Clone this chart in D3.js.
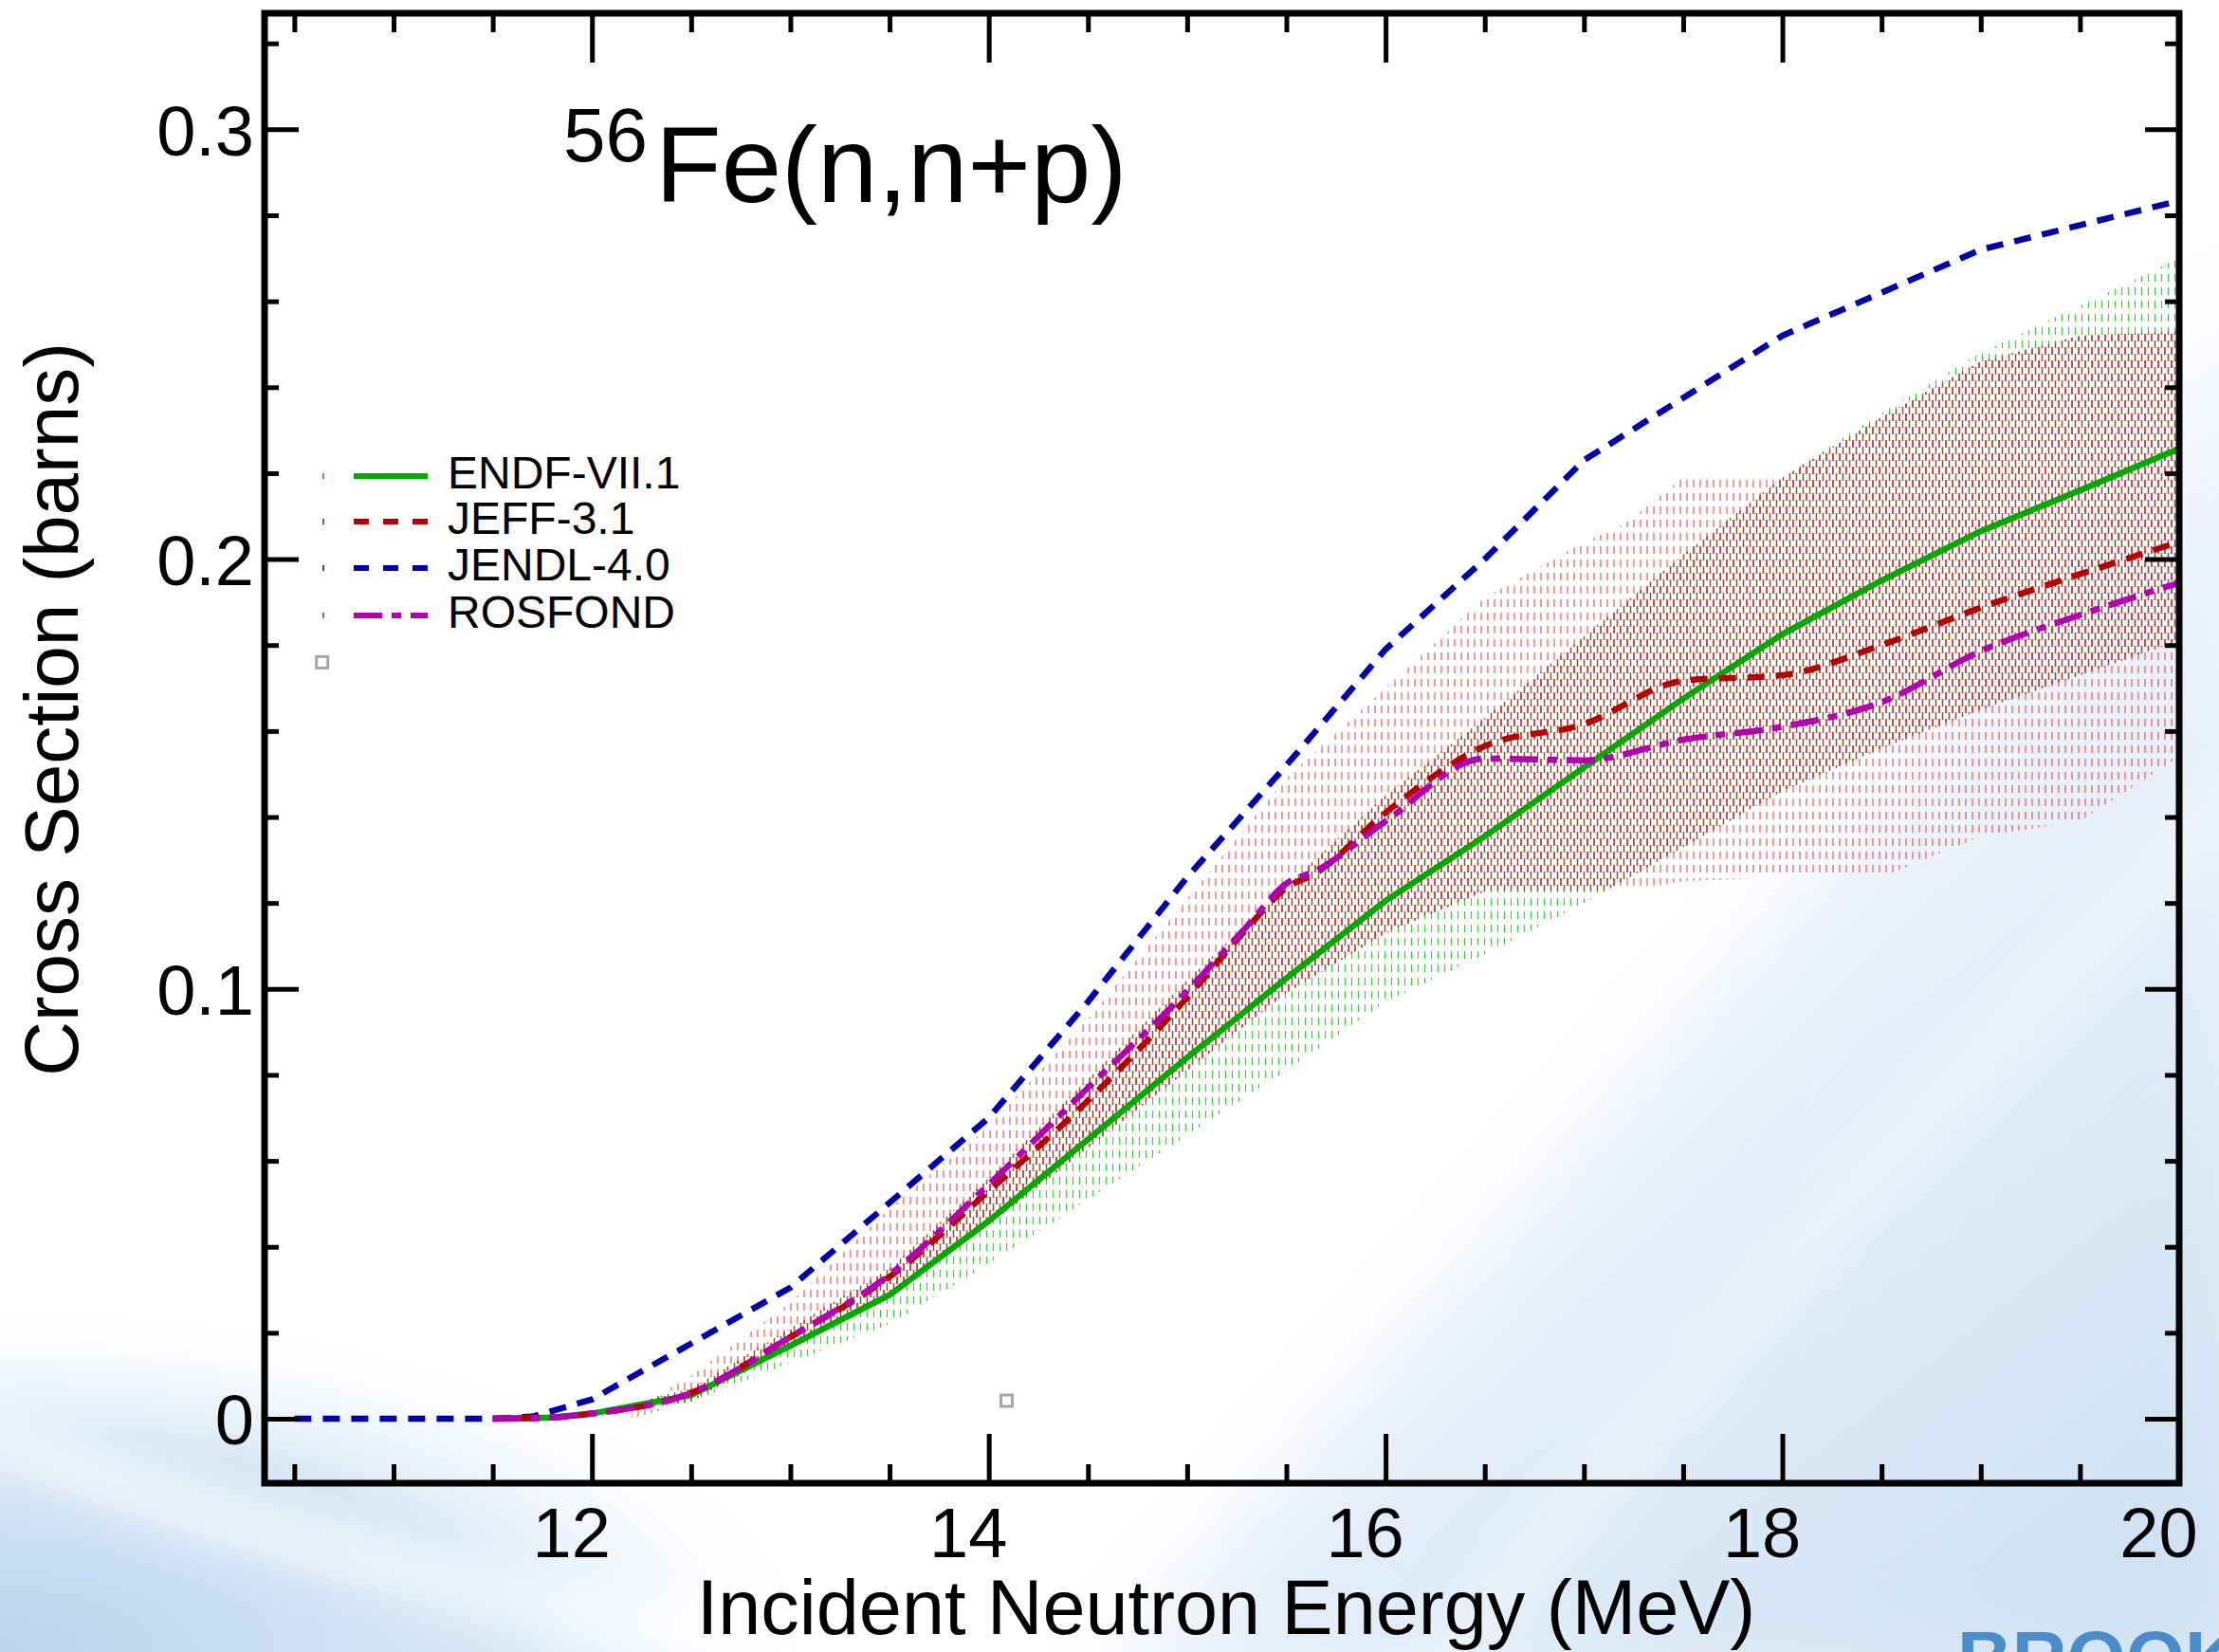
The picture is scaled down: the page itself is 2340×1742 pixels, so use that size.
<!DOCTYPE html>
<html>
<head>
<meta charset="utf-8">
<script src="https://cdnjs.cloudflare.com/ajax/libs/d3/7.8.5/d3.min.js"></script>
<style>
  html, body { margin: 0; padding: 0; background: #fff; }
  svg { display: block; font-family: "Liberation Sans", Arial, Helvetica, sans-serif; }
</style>
</head>
<body>
<svg id="chart" width="2340" height="1742"></svg>
<script>
// 56Fe(n,n+p) cross sections (barns) vs incident energy (MeV)
let jendlE  = [10.5, 11.5, 11.7, 12, 13, 14, 14.5, 15, 15.5, 16, 16.5, 17, 18, 19, 20]
let jendlXs = [0, 0, 0.0005, 0.0045, 0.0305, 0.070, 0.097, 0.126, 0.152, 0.179, 0.200, 0.223, 0.252, 0.272, 0.2834]

let endfE  = [11.5, 11.8, 12, 12.5, 13, 13.5, 14, 14.5, 15, 15.5, 16, 16.5, 17, 17.5, 18, 18.5, 19, 19.5, 20]
let endfXs = [0, 0.0003, 0.0012, 0.0055, 0.017, 0.0288, 0.046, 0.065, 0.084, 0.1025, 0.1205, 0.1355, 0.1515, 0.1675, 0.1825, 0.195, 0.2065, 0.216, 0.2257]
// ENDF uncertainty band
let endfLow  = [0, 0.0002, 0.0009, 0.004, 0.013, 0.022, 0.036, 0.051, 0.066, 0.081, 0.097, 0.108, 0.120, 0.133, 0.146, 0.156, 0.165, 0.173, 0.181]
let endfHigh = [0, 0.0004, 0.0015, 0.007, 0.021, 0.035, 0.056, 0.079, 0.102, 0.124, 0.145, 0.163, 0.182, 0.201, 0.219, 0.234, 0.248, 0.259, 0.270]

let jeffE  = [11.5, 11.8, 12, 12.5, 13, 13.5, 14, 14.5, 15, 15.3, 15.5, 15.65, 16, 16.5, 17, 17.5, 18, 18.5, 19, 19.5, 20]
let jeffXs = [0, 0.0003, 0.0012, 0.006, 0.019, 0.033, 0.053, 0.074, 0.098, 0.114, 0.1235, 0.127, 0.141, 0.1565, 0.1616, 0.1717, 0.173, 0.180, 0.1887, 0.1965, 0.204]
// JEFF uncertainty band
let jeffBandE = [12.2, 12.5, 13, 13.5, 14, 14.5, 15, 15.5, 16, 16.5, 17, 17.2, 17.5, 18, 18.5, 19, 19.5, 20]
let jeffLow   = [0, 0.004, 0.0165, 0.029, 0.045, 0.063, 0.081, 0.099, 0.113, 0.1227, 0.1227, 0.1227, 0.125, 0.126, 0.126, 0.1355, 0.139, 0.154]
let jeffHigh  = [0.002, 0.010, 0.027, 0.049, 0.068, 0.093, 0.121, 0.149, 0.170, 0.191, 0.204, 0.208, 0.219, 0.219, 0.233, 0.246, 0.252, 0.253]

let rosE  = [11.5, 11.8, 12, 12.5, 13, 13.5, 14, 14.5, 15, 15.3, 15.5, 15.65, 16, 16.5, 17, 17.5, 18, 18.5, 19, 19.5, 20]
let rosXs = [0, 0.0003, 0.0012, 0.006, 0.019, 0.0335, 0.0545, 0.077, 0.0995, 0.1145, 0.1245, 0.1275, 0.139, 0.1536, 0.1532, 0.158, 0.161, 0.1667, 0.1786, 0.187, 0.1945]

// stray open markers
let markE  = [10.64, 14.09]
let markXs = [0.176, 0.0042]

let xMajor = [12, 14, 16, 18, 20]
let yMajor = [0, 0.1, 0.2, 0.3]

const legendNames = ['ENDF-VII.1', 'JEFF-3.1', 'JENDL-4.0', 'ROSFOND']
const colors = { endf: '#00a800', jeff: '#b40000', jendl: '#0000aa', ros: '#b000b0' }
const dashes = { endf: null, jeff: '18,12', jendl: '18,12', ros: '30,10,10,10' }

const svg = d3.select('#chart')
const defs = svg.append('defs')

const x = d3.scaleLinear().domain([10.35, 20]).range([279, 2298])
const y = d3.scaleLinear().domain([-0.015, 0.327]).range([1564, 14])

// ---- slide background ----
function blurFilter(id, sd) {
  defs.append('filter').attr('id', id)
    .attr('x', '-50%').attr('y', '-50%').attr('width', '200%').attr('height', '200%')
    .append('feGaussianBlur').attr('stdDeviation', sd)
}
blurFilter('soft', 60)
blurFilter('softer', 25)

const rg = defs.append('linearGradient').attr('id', 'bgRight')
  .attr('gradientUnits', 'userSpaceOnUse')
  .attr('x1', 1550).attr('y1', 750).attr('x2', 2340).attr('y2', 1742)
rg.append('stop').attr('offset', 0).attr('stop-color', '#f7fafd')
rg.append('stop').attr('offset', 0.45).attr('stop-color', '#e4eef8')
rg.append('stop').attr('offset', 1).attr('stop-color', '#cadff1')

const lg = defs.append('radialGradient').attr('id', 'bgLeft')
  .attr('gradientUnits', 'userSpaceOnUse')
  .attr('cx', 0).attr('cy', 1742).attr('r', 700)
  .attr('gradientTransform', 'translate(0,1742) scale(1.3,0.55) translate(0,-1742)')
lg.append('stop').attr('offset', 0).attr('stop-color', '#bcd5ed')
lg.append('stop').attr('offset', 0.6).attr('stop-color', '#d9e8f5')
lg.append('stop').attr('offset', 1).attr('stop-color', '#ffffff').attr('stop-opacity', 0)

const bg = svg.append('g')
bg.append('rect').attr('width', 2340).attr('height', 1742).attr('fill', '#fff')
bg.append('rect').attr('x', 0).attr('y', 1300).attr('width', 1100).attr('height', 442)
  .attr('fill', 'url(#bgLeft)')
bg.append('path')
  .attr('d', 'M1150,1800 C1500,1380 1950,950 2400,250 L2400,1800 Z')
  .attr('fill', 'url(#bgRight)').attr('filter', 'url(#soft)')
// pale streaks across the blue
bg.append('path')
  .attr('d', 'M-40,1500 Q420,1700 1050,1760')
  .attr('fill', 'none').attr('stroke', '#ffffff').attr('stroke-width', 45)
  .attr('opacity', 0.75).attr('filter', 'url(#softer)')
bg.append('path')
  .attr('d', 'M1500,1780 Q1900,1300 2380,820')
  .attr('fill', 'none').attr('stroke', '#ffffff').attr('stroke-width', 40)
  .attr('opacity', 0.45).attr('filter', 'url(#softer)')

// logo fragment at the bottom edge, cut by the page
const logoClip = defs.append('clipPath').attr('id', 'pageEdge')
logoClip.append('rect').attr('width', 2340).attr('height', 1742)
const logo = svg.append('g').attr('clip-path', 'url(#pageEdge)')
logo.append('text').attr('x', 2064).attr('y', 1776)
  .attr('font-size', 80).attr('font-weight', 'bold').attr('fill', '#4a8cc8')
  .text('BROOKHAVEN')

// ---- hatch patterns ----
// each pattern: columns of short vertical dashes, 7px apart, rows 14px apart
function hatch(id, cols, w) {
  const p = defs.append('pattern').attr('id', id)
    .attr('patternUnits', 'userSpaceOnUse').attr('width', 7).attr('height', 14)
  cols.forEach(c => c.segs.forEach(s => p.append('line')
    .attr('x1', c.x).attr('x2', c.x).attr('y1', s[0]).attr('y2', s[1])
    .attr('stroke', c.color).attr('stroke-width', w)))
}
const upper = [[2, 10]]
const lower = [[9, 14], [0, 3]]
hatch('hatchRed', [{ x: 1, color: '#e05a5a', segs: upper }], 1.2)
hatch('hatchGreen', [{ x: 4.5, color: '#3ccc3c', segs: lower }], 1.2)
hatch('hatchBoth', [{ x: 1, color: '#c42a2a', segs: upper }, { x: 4.5, color: '#8e5030', segs: lower }], 1.4)

const plotClip = defs.append('clipPath').attr('id', 'plotArea')
plotClip.append('rect').attr('x', 279).attr('y', 14).attr('width', 2019).attr('height', 1550)

const bandArea = d3.area()
  .x(d => x(d.e)).y0(d => y(d.lo)).y1(d => y(d.hi))

const endfBand = endfE.map((e, i) => ({ e, lo: endfLow[i], hi: endfHigh[i] }))
const jeffBand = jeffBandE.map((e, i) => ({ e, lo: jeffLow[i], hi: jeffHigh[i] }))

defs.append('clipPath').attr('id', 'jeffClip')
  .append('path').attr('d', bandArea(jeffBand))

const plot = svg.append('g').attr('clip-path', 'url(#plotArea)')

plot.append('path').attr('d', bandArea(jeffBand)).attr('fill', 'url(#hatchRed)')
plot.append('path').attr('d', bandArea(endfBand)).attr('fill', 'url(#hatchGreen)')
plot.append('g').attr('clip-path', 'url(#jeffClip)')
  .append('path').attr('d', bandArea(endfBand)).attr('fill', 'url(#hatchBoth)')

// ---- evaluated curves ----
const series = [
  { key: 'jendl', e: jendlE, v: jendlXs, curve: d3.curveLinear },
  { key: 'endf', e: endfE, v: endfXs, curve: d3.curveLinear },
  { key: 'jeff', e: jeffE, v: jeffXs, curve: d3.curveMonotoneX },
  { key: 'ros', e: rosE, v: rosXs, curve: d3.curveMonotoneX }
]

series.forEach(s => {
  const line = d3.line().x(d => x(d[0])).y(d => y(d[1])).curve(s.curve)
  plot.append('path')
    .datum(s.e.map((e, i) => [e, s.v[i]]))
    .attr('d', line)
    .attr('fill', 'none')
    .attr('stroke', colors[s.key])
    .attr('stroke-width', 6.5)
    .attr('stroke-dasharray', dashes[s.key])
})

plot.selectAll('rect.mark')
  .data(markE.map((e, i) => [e, markXs[i]]))
  .enter()
  .append('rect')
  .attr('class', 'mark')
  .attr('x', d => x(d[0]) - 6).attr('y', d => y(d[1]) - 6)
  .attr('width', 12).attr('height', 12)
  .attr('fill', '#fff').attr('stroke', '#a6a6a6').attr('stroke-width', 3)

// ---- frame and ticks ----
const xMinor = d3.range(10.5, 20.01, 0.5).filter(v => !xMajor.includes(v))
const yMinor = d3.range(0, 0.3201, 0.02).map(v => +v.toFixed(2))
  .filter(v => !yMajor.some(m => Math.abs(m - v) < 1e-9))

function ticks(axis, vals, size, transform) {
  svg.append('g')
    .attr('transform', transform)
    .call(axis.tickValues(vals).tickSize(size).tickFormat(''))
    .call(g => g.select('.domain').remove())
    .call(g => g.selectAll('line').attr('stroke', '#000').attr('stroke-width', 5))
}
ticks(d3.axisBottom(x), xMajor, -52, 'translate(0,1564)')
ticks(d3.axisBottom(x), xMinor, -20, 'translate(0,1564)')
ticks(d3.axisTop(x), xMajor, -52, 'translate(0,14)')
ticks(d3.axisTop(x), xMinor, -20, 'translate(0,14)')
ticks(d3.axisLeft(y), yMajor, -36, 'translate(279,0)')
ticks(d3.axisLeft(y), yMinor, -15, 'translate(279,0)')
ticks(d3.axisRight(y), yMajor, -36, 'translate(2298,0)')
ticks(d3.axisRight(y), yMinor, -15, 'translate(2298,0)')

svg.append('rect')
  .attr('x', 279).attr('y', 14).attr('width', 2019).attr('height', 1550)
  .attr('fill', 'none').attr('stroke', '#000').attr('stroke-width', 7)

// tick labels (x labels sit a little left of their ticks)
svg.append('g')
  .attr('transform', 'translate(0,1564)')
  .call(d3.axisBottom(x).tickValues(xMajor).tickSize(0).tickPadding(25).tickFormat(d3.format('d')))
  .call(g => g.select('.domain').remove())
  .call(g => g.selectAll('text')
    .attr('dx', -22)
    .attr('font-size', 74).attr('font-family', '"Liberation Sans", Arial, sans-serif').attr('fill', '#000'))

svg.append('g')
  .attr('transform', 'translate(279,0)')
  .call(d3.axisLeft(y).tickValues(yMajor).tickSize(0).tickPadding(11)
    .tickFormat(d => d === 0 ? '0' : d.toFixed(1)))
  .call(g => g.select('.domain').remove())
  .call(g => g.selectAll('text')
    .attr('font-size', 74).attr('dy', '0.36em')
    .attr('font-family', '"Liberation Sans", Arial, sans-serif').attr('fill', '#000'))

// axis titles
svg.append('text')
  .attr('x', 1293).attr('y', 1723)
  .attr('text-anchor', 'middle').attr('font-size', 81)
  .text('Incident Neutron Energy (MeV)')

svg.append('text')
  .attr('transform', 'translate(82,748) rotate(-90)')
  .attr('text-anchor', 'middle').attr('font-size', 80)
  .text('Cross Section (barns)')

// reaction label
const title = svg.append('text').attr('y', 213)
title.append('tspan').attr('x', 594).attr('dy', -43).attr('font-size', 80).text('56')
title.append('tspan').attr('x', 691).attr('dy', 43).attr('font-size', 114).text('Fe(n,n+p)')

// ---- legend ----
const legendKeys = ['endf', 'jeff', 'jendl', 'ros']
const legendY = [502, 550, 599, 649]
const legend = svg.append('g')
legendKeys.forEach((k, i) => {
  const ly = legendY[i]
  legend.append('line')
    .attr('x1', 341).attr('x2', 341).attr('y1', ly - 3).attr('y2', ly + 3)
    .attr('stroke', colors[k]).attr('stroke-width', 1.5)
  legend.append('line')
    .attr('x1', 373).attr('x2', 451).attr('y1', ly).attr('y2', ly)
    .attr('stroke', colors[k]).attr('stroke-width', 6)
    .attr('stroke-dasharray', k === 'ros' ? '30,10,10,10' : (k === 'endf' ? null : '16,15'))
  legend.append('text')
    .attr('x', 472).attr('y', ly + 13)
    .attr('font-size', 48)
    .text(legendNames[i])
})
</script>
</body>
</html>
